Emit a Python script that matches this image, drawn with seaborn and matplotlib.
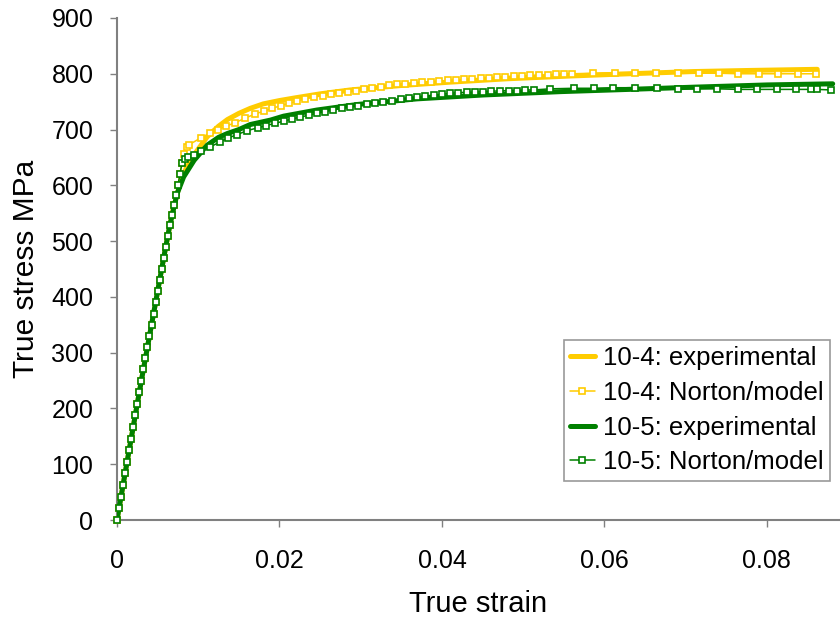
import numpy as np
import pandas as pd
import matplotlib
matplotlib.use("Agg")
import matplotlib.pyplot as plt
import seaborn as sns

# experimental curves
exp104_strain = [0, 0.001, 0.002, 0.003, 0.004, 0.005, 0.006, 0.0068, 0.0074, 0.0078,
                 0.0085, 0.0095, 0.0111, 0.0125, 0.0136, 0.015, 0.0164, 0.018, 0.02,
                 0.022, 0.025, 0.0287, 0.035, 0.041, 0.048, 0.0558, 0.063, 0.071, 0.078,
                 0.0862]
exp104_stress = [0, 84, 167, 250, 330, 410, 490, 550, 585, 604,
                 630, 655, 687, 706, 718, 729, 738, 746, 752,
                 757, 764, 771, 779, 785, 791, 796, 800, 804, 806,
                 808]

exp105_strain = [0, 0.001, 0.002, 0.003, 0.004, 0.005, 0.006, 0.0065, 0.007, 0.0074,
                 0.0082, 0.0095, 0.0111, 0.0125, 0.0136, 0.015, 0.0164, 0.0189, 0.0205,
                 0.0246, 0.0296, 0.0369, 0.0451, 0.0546, 0.063, 0.071, 0.08, 0.0881]
exp105_stress = [0, 84, 167, 250, 330, 410, 490, 528, 560, 585,
                 615, 645, 672, 686, 693, 700, 709, 717, 724,
                 735, 745, 755, 762, 768, 772, 776, 780, 782]

# model curves: shared elastic part, then plastic part
model_el_strain = [0, 0.00025, 0.0005, 0.00075, 0.001, 0.00125, 0.0015, 0.00175, 0.002,
                   0.00225, 0.0025, 0.00275, 0.003, 0.00325, 0.0035, 0.00375, 0.004,
                   0.00425, 0.0045, 0.00475, 0.005, 0.00525, 0.0055, 0.00575, 0.006,
                   0.00625, 0.0065, 0.00675, 0.007, 0.00725, 0.0075, 0.00775, 0.008]
model_el_stress = [0, 21, 42, 63, 84, 104, 125, 146, 167,
                   188, 208, 229, 250, 270, 290, 310, 330,
                   350, 370, 390, 410, 430, 450, 470, 490,
                   509, 528, 547, 565, 583, 600, 620, 640]

mod104_strain = [0.0082, 0.0086, 0.0089, 0.0103, 0.0115, 0.0124, 0.0134, 0.0145, 0.0157,
                 0.017, 0.0181, 0.0191, 0.0202, 0.0212, 0.0222, 0.0232, 0.0243, 0.0253,
                 0.0263, 0.0273, 0.0284, 0.0294, 0.0304, 0.0314, 0.0325, 0.0335, 0.0345,
                 0.0355, 0.0366, 0.0376, 0.0386, 0.0396, 0.0407, 0.0417, 0.0427, 0.0437,
                 0.0448, 0.0458, 0.0468, 0.0478, 0.0489, 0.0499, 0.0509, 0.0519, 0.053,
                 0.054, 0.055, 0.056, 0.0586, 0.0613, 0.0638, 0.0664, 0.069, 0.0716,
                 0.0741, 0.0765, 0.079, 0.0814, 0.0838, 0.086]
mod104_stress = [656, 668, 673, 685, 694, 700, 706, 712, 720,
                 728, 733, 738, 743, 747, 751, 755, 758, 761,
                 763, 765, 767, 770, 772, 775, 777, 779, 781,
                 782, 784, 785, 786, 787, 788, 789, 790, 791,
                 792, 793, 794, 795, 796, 796, 797, 798, 798,
                 799, 800, 800, 801, 802, 802, 802, 802, 801,
                 801, 800, 800, 800, 800, 800]

mod105_strain = [0.0084, 0.0088, 0.0095, 0.0103, 0.0115, 0.0127, 0.0137, 0.0148, 0.016,
                 0.0173, 0.0183, 0.0194, 0.0205, 0.0215, 0.0225, 0.0236, 0.0246, 0.0256,
                 0.0266, 0.0277, 0.0287, 0.0297, 0.0308, 0.0318, 0.0328, 0.0338, 0.0349,
                 0.0359, 0.0369, 0.0379, 0.039, 0.04, 0.041, 0.042, 0.0431, 0.0441,
                 0.0451, 0.0461, 0.0472, 0.0482, 0.0492, 0.0502, 0.0513, 0.0533, 0.0562,
                 0.0587, 0.0611, 0.0638, 0.0665, 0.069, 0.0714, 0.0739, 0.0764, 0.0788,
                 0.0813, 0.0836, 0.0854, 0.0862, 0.0879]
mod105_stress = [647, 650, 654, 661, 669, 678, 685, 691, 698,
                 703, 707, 711, 715, 719, 722, 726, 729, 732,
                 735, 738, 741, 743, 745, 748, 750, 752, 754,
                 757, 759, 760, 762, 763, 765, 766, 767, 767,
                 768, 769, 769, 770, 770, 771, 771, 773, 774,
                 774, 775, 775, 774, 773, 773, 773, 772, 772,
                 772, 772, 772, 772, 771]

yellow = "#FFCC00"
green = "#008000"

sns.set_theme(style="ticks")
plt.rcParams["font.family"] = ["Liberation Sans", "DejaVu Sans"]
plt.rcParams["text.color"] = "black"
plt.rcParams["axes.labelcolor"] = "black"
plt.rcParams["xtick.labelcolor"] = "black"
plt.rcParams["ytick.labelcolor"] = "black"

fig = plt.figure(figsize=(8.4, 6.21), dpi=100)
ax = fig.add_axes([117 / 840, 101 / 621, 723 / 840, 502 / 621])

sns.lineplot(x=exp104_strain, y=exp104_stress, ax=ax, color=yellow, linewidth=3.6,
             sort=False, estimator=None, label="10-4: experimental", zorder=2)
sns.lineplot(x=model_el_strain + mod104_strain, y=model_el_stress + mod104_stress, ax=ax,
             color=yellow, linewidth=1.1, marker="s", markersize=4.5, markeredgewidth=1.2,
             markeredgecolor=yellow, markerfacecolor="white", sort=False, estimator=None,
             label="10-4: Norton/model", clip_on=False, zorder=3)
sns.lineplot(x=exp105_strain, y=exp105_stress, ax=ax, color=green, linewidth=3.6,
             sort=False, estimator=None, label="10-5: experimental", zorder=4)
sns.lineplot(x=model_el_strain + mod105_strain, y=model_el_stress + mod105_stress, ax=ax,
             color=green, linewidth=1.1, marker="s", markersize=4.5, markeredgewidth=1.2,
             markeredgecolor=green, markerfacecolor="white", sort=False, estimator=None,
             label="10-5: Norton/model", clip_on=False, zorder=5)

ax.set_xlim(0, 0.089)
ax.set_ylim(0, 900)
ax.set_xticks([0, 0.02, 0.04, 0.06, 0.08])
ax.set_xticklabels(["0", "0.02", "0.04", "0.06", "0.08"])
ax.set_yticks(range(0, 901, 100))
ax.set_xlabel("True strain", fontsize=21, labelpad=12)
ax.set_ylabel("True stress MPa", fontsize=21.5, labelpad=8)
ax.tick_params(labelsize=18, length=5, width=1, color="#808080")
ax.tick_params(axis="x", pad=16)
ax.tick_params(axis="y", pad=12)

for side in ["top", "right"]:
    ax.spines[side].set_visible(False)
for side in ["left", "bottom"]:
    ax.spines[side].set_color("#808080")
    ax.spines[side].set_linewidth(1.5)

leg = ax.legend(loc="lower right", bbox_to_anchor=(0.986, 0.078), borderaxespad=0,
                fontsize=18.5, frameon=True, fancybox=False, handlelength=0.96,
                handletextpad=0.32, labelspacing=0.42, borderpad=0.25)
leg.get_frame().set_edgecolor("#808080")
leg.get_frame().set_linewidth(1.2)

fig.savefig("out.png", dpi=100)
